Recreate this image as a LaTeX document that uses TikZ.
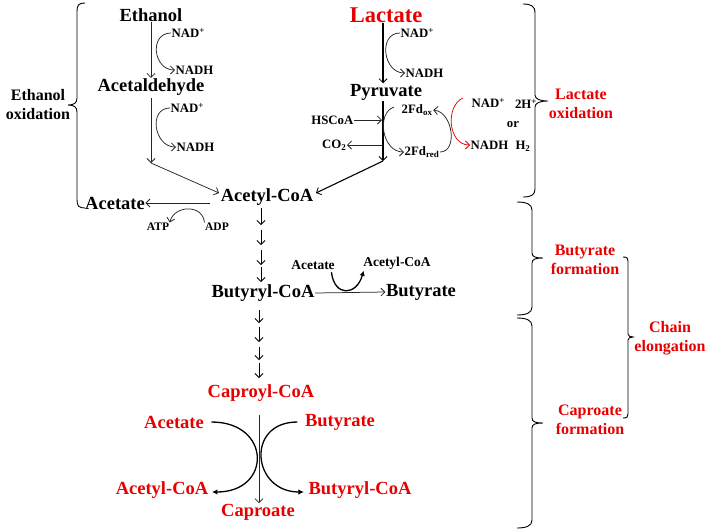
\documentclass[tikz,border=0pt]{standalone}
\usepackage{fontspec}
\setmainfont{Liberation Serif}
\usetikzlibrary{arrows.meta}
\definecolor{rd}{RGB}{232,0,0}
\begin{document}
\begin{tikzpicture}[x=1pt,y=-1pt,
  big/.style={font=\fontsize{18.5}{20}\selectfont\bfseries,inner sep=0.5pt},
  lbl/.style={font=\fontsize{16}{19}\selectfont\bfseries,inner sep=0.5pt,align=center},
  sm/.style={font=\fontsize{12.8}{14}\selectfont\bfseries,inner sep=0.5pt},
  mid/.style={font=\fontsize{13.5}{15}\selectfont\bfseries,inner sep=0.5pt},
  tiny/.style={font=\fontsize{11.5}{12}\selectfont\bfseries,inner sep=0.5pt},
  arr/.style={-{Straight Barb[length=4pt,width=8pt,line width=0.8pt]}},
  thn/.style={line width=0.75pt,draw=black!85},
  chn/.style={line width=0.95pt,draw=black},
  thk/.style={line width=1.1pt},
  brc/.style={line width=0.9pt},
  rdc/.style={text=rd}]
\useasboundingbox (0,0) rectangle (709,531);

% ---------- Ethanol branch ----------
\node[big] (eth) at (151,15) {Ethanol};
\node[sm,anchor=west] (nad1) at (171,33) {NAD\textsuperscript{+}};
\node[sm,anchor=west] (nadh1) at (175,70) {NADH};
\node[big] (ald) at (151,87) {Acetaldehyde};
\node[sm,anchor=west] (nad2) at (170,108) {NAD\textsuperscript{+}};
\node[sm,anchor=west] (nadh2) at (176,147) {NADH};
\coordinate (j1) at (151,163);
\node[big] (acoa) at (267,197) {Acetyl-CoA};
\node[big] (acet1) at (115,203) {Acetate};
\node[tiny] (atp) at (158,227) {ATP};
\node[tiny] (adp) at (217,227) {ADP};

\draw[thn,arr] (eth.south) -- (ald.north);
\draw[thn,arr] (nad1.west) .. controls +(-22,0) and +(-22,0) .. (nadh1.west);
\draw[thn,arr] ([yshift=-2pt]ald.south) -- (j1);
\draw[thn,arr] (nad2.west) .. controls +(-22,0) and +(-22,0) .. (nadh2.west);
\draw[thn,arr] (j1) -- ([shift={(-1pt,4pt)}]acoa.west);
\draw[thn,arr] ([shift={(-10pt,-6pt)}]acoa.west) -- (acet1.east);
\draw[thn,arr] (adp.north west) .. controls +(-2,-19) and +(4,-17) .. (atp.north east);

\node[lbl] (ethox) at (38,105) {Ethanol\\oxidation};
\draw[brc] (85,3) .. controls (79,3) and (77,5) .. (77,11) -- (77,98)
  .. controls (77,103) and (74,105) .. (68,105)
  .. controls (74,105) and (77,107) .. (77,112) -- (77,200)
  .. controls (77,206) and (79,208) .. (85,208);

% ---------- Lactate branch ----------
\node[font=\fontsize{22.5}{24}\selectfont\bfseries,inner sep=0.5pt,rdc] (lac) at (386,15) {Lactate};
\node[sm,anchor=west] (nad3) at (400,33) {NAD\textsuperscript{+}};
\node[sm,anchor=west] (nadh3) at (405,73) {NADH};
\node[big] (pyr) at (386,92) {Pyruvate};
\coordinate (j2) at (383,161);
\node[sm,anchor=east] (hscoa) at (354,120) {HSCoA};
\node[sm,anchor=east] (co2) at (347,145) {CO\textsubscript{2}};
\node[sm,anchor=west] (fdox) at (401,110) {2Fd\textsubscript{ox}};
\node[sm,anchor=west] (fdred) at (404,152) {2Fd\textsubscript{red}};
\node[sm,anchor=west] (nad4) at (471,103) {NAD\textsuperscript{+}};
\node[sm,anchor=west] (nadh4) at (470,145) {NADH};
\node[sm] (h2p) at (526,104) {2H\textsuperscript{+}};
\node[sm] (or) at (513,125) {or};
\node[sm] (h2) at (523,146) {H\textsubscript{2}};

\draw[thk,arr] ([xshift=-3pt]lac.south) -- ([xshift=-3pt]pyr.north);
\draw[thn,arr] (nad3.west) .. controls +(-22,0) and +(-22,0) .. (nadh3.west);
\draw[thk,arr] ([xshift=-3pt]pyr.south) -- (j2);
\draw[thn,arr,shorten >=1pt] (hscoa.east) -- (hscoa.east -| j2);
\draw[thn,arr,shorten <=1pt] (co2.east -| j2) -- (co2.east);
\draw[thn,arr] ([xshift=-7pt,yshift=3pt]fdox.west) .. controls +(-18,6) and +(-22,0) .. (fdred.west);
\draw[thn,arr] (fdred.east) .. controls +(18,0) and +(20,2) .. (fdox.east);
\draw[thn,draw=rd,arr] ([xshift=-8pt,yshift=5pt]nad4.west) .. controls +(-18,8) and +(-22,0) .. (nadh4.west);
\draw[thk,arr] (j2) -- ([shift={(2pt,4pt)}]acoa.east);

\node[lbl,rdc] (lacox) at (581,104) {Lactate\\oxidation};
\draw[brc] (523,4) .. controls (531,4) and (535,6) .. (535,13) -- (535,95)
  .. controls (535,99) and (540,101) .. (548,101)
  .. controls (540,101) and (535,103) .. (535,107) -- (535,189)
  .. controls (535,195) and (531,197) .. (523,197);

% ---------- Chain to butyryl-CoA ----------
\foreach \i/\a/\b in {1/208/225,2/230/245,3/250/265,4/267/282}{
  \coordinate (u\i s) at (261,\a);
  \coordinate (u\i e) at (261,\b);
  \draw[chn,arr] (u\i s) -- (u\i e);
}
\node[big] (bcoa) at (263,293) {Butyryl-CoA};
\node[big] (but) at (421,292) {Butyrate};
\node[mid] (acet2) at (313,265) {Acetate};
\node[mid] (acoa2) at (397,263) {Acetyl-CoA};
\draw[thn,arr] (bcoa.east) -- (but.west);
\draw[line width=1.3pt,-{Latex[length=5pt,width=5.5pt]}] ([xshift=-4pt,yshift=-2pt]acet2.south east) .. controls +(3,25) and +(-7,25) .. ([xshift=1pt,yshift=-1pt]acoa2.south west);

\foreach \i/\a/\b in {1/310/323,2/327/342,3/347/360,4/363/378}{
  \coordinate (v\i s) at (259,\a);
  \coordinate (v\i e) at (259,\b);
  \draw[chn,arr] (v\i s) -- (v\i e);
}

% ---------- Caproate formation (red) ----------
\node[big,rdc] (cap) at (261,393) {Caproyl-CoA};
\node[big,rdc] (racet) at (174,422) {Acetate};
\node[big,rdc] (rbut) at (340,422) {Butyrate};
\node[big,rdc] (racoa) at (162,490) {Acetyl-CoA};
\node[big,rdc] (rbcoa) at (360,490) {Butyryl-CoA};
\node[big,rdc] (capr) at (258,512) {Caproate};

\draw[thn,arr] (259,415) -- (capr.north -| 259,0);
\draw[line width=1.3pt,-{Latex[length=5.5pt,width=5.5pt]}] ([xshift=7pt]racet.east) .. controls +(60,0) and +(60,0) .. ([xshift=3pt,yshift=-2pt]racoa.east);
\draw[line width=1.3pt,-{Latex[length=5.5pt,width=5.5pt]}] ([xshift=-7pt]rbut.west) .. controls +(-52,0) and +(-52,0) .. ([xshift=-4pt,yshift=-2pt]rbcoa.west);

% ---------- Right braces ----------
\node[lbl,rdc] (butf) at (585,260) {Butyrate\\formation};
\node[lbl,rdc] (capf) at (590,420) {Caproate\\formation};
\node[lbl,rdc] (chain) at (670,338) {Chain\\elongation};
\draw[brc] (517,202) .. controls (526,202) and (532,204) .. (532,210) -- (532,253)
  .. controls (532,257) and (536,258) .. (543,258)
  .. controls (536,258) and (532,259) .. (532,263) -- (532,307)
  .. controls (532,313) and (526,315) .. (517,315);
\draw[brc] (517,318) .. controls (526,318) and (532,320) .. (532,326) -- (532,418)
  .. controls (532,422) and (536,423) .. (543,423)
  .. controls (536,423) and (532,424) .. (532,428) -- (532,520)
  .. controls (532,526) and (526,528) .. (517,528);
\draw[brc] (623,257) .. controls (627,257) and (628,258) .. (628,261) -- (628,334)
  .. controls (628,336) and (630,337) .. (633,337)
  .. controls (630,337) and (628,338) .. (628,340) -- (628,414)
  .. controls (628,417) and (627,418) .. (623,418);
\end{tikzpicture}
\end{document}
